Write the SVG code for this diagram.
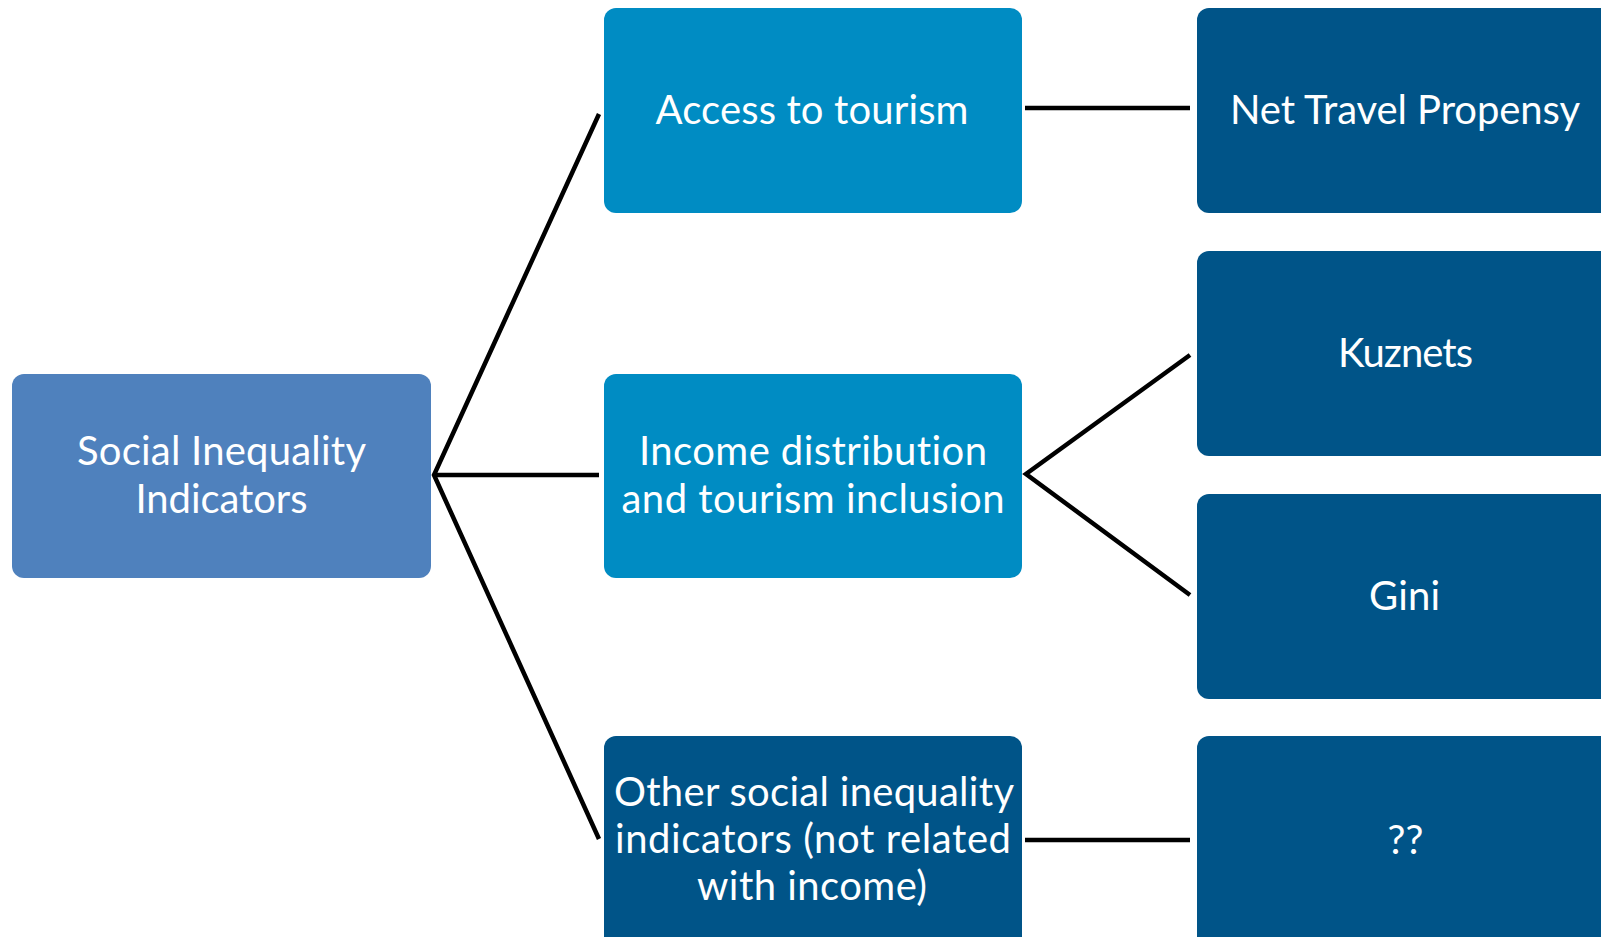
<svg xmlns="http://www.w3.org/2000/svg" width="1601" height="937" viewBox="0 0 1601 937">
<style>
.root{fill:#4F81BD}
.mid{fill:#008CC3}
.dark{fill:#005488}
.t{font-family:Lato,"Open Sans","Liberation Sans",sans-serif;font-size:40px;fill:#FFFFFF;text-anchor:middle;font-variant-ligatures:none;font-feature-settings:"liga" 0,"clig" 0}
.c{fill:none;stroke:#000000;stroke-width:4.5;stroke-linejoin:miter}
</style>
<rect width="1601" height="937" fill="#FFFFFF"/>
<g id="connectors">
<path class="c" d="M599,114 L434,475 L599,839"/>
<path class="c" d="M434,475 L599,475"/>
<path class="c" d="M1025,108 L1190,108"/>
<path class="c" d="M1190,355 L1026,474 L1190,595"/>
<path class="c" d="M1025,840 L1190,840"/>
</g>
<g id="node-root">
<rect class="root" x="12" y="374" width="419" height="204" rx="12"/>
<text class="t" x="221.5" y="465" textLength="289" lengthAdjust="spacing">Social Inequality</text>
<text class="t" x="221.5" y="513" textLength="172" lengthAdjust="spacing">Indicators</text>
</g>
<g id="node-access">
<rect class="mid" x="604" y="8" width="418" height="205" rx="12"/>
<text class="t" x="812" y="124" textLength="313" lengthAdjust="spacing">Access to tourism</text>
</g>
<g id="node-income">
<rect class="mid" x="604" y="374" width="418" height="204" rx="12"/>
<text class="t" x="813" y="465" textLength="348" lengthAdjust="spacing">Income distribution</text>
<text class="t" x="813" y="513" textLength="383" lengthAdjust="spacing">and tourism inclusion</text>
</g>
<g id="node-other">
<rect class="dark" x="604" y="736" width="418" height="215" rx="12"/>
<text class="t" x="814" y="806" textLength="400" lengthAdjust="spacing">Other social inequality</text>
<text class="t" x="813" y="853" textLength="396" lengthAdjust="spacing">indicators (not related</text>
<text class="t" x="812" y="900" textLength="230" lengthAdjust="spacing">with income)</text>
</g>
<g id="node-ntp">
<rect class="dark" x="1197" y="8" width="418" height="205" rx="12"/>
<text class="t" x="1405" y="124" textLength="350" lengthAdjust="spacing">Net Travel Propensy</text>
</g>
<g id="node-kuznets">
<rect class="dark" x="1197" y="251" width="418" height="205" rx="12"/>
<text class="t" x="1405.5" y="367" textLength="135" lengthAdjust="spacing">Kuznets</text>
</g>
<g id="node-gini">
<rect class="dark" x="1197" y="494" width="418" height="205" rx="12"/>
<text class="t" x="1404.5" y="610" textLength="71" lengthAdjust="spacing">Gini</text>
</g>
<g id="node-unknown">
<rect class="dark" x="1197" y="736" width="418" height="215" rx="12"/>
<text class="t" x="1405.5" y="854">??</text>
</g>
</svg>
